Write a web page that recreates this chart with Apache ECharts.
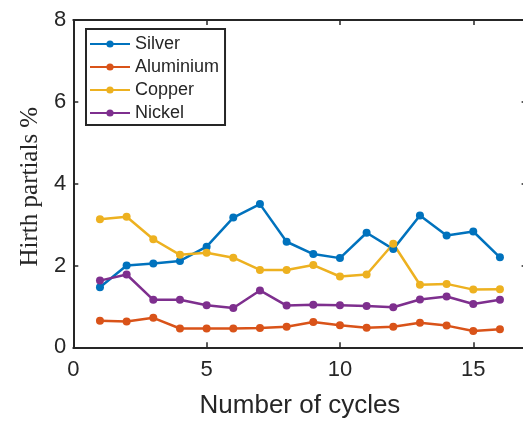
<!DOCTYPE html>
<html>
<head>
<meta charset="utf-8">
<script src="https://cdn.jsdelivr.net/npm/echarts@6/dist/echarts.min.js"></script>
<style>
html,body{margin:0;padding:0;background:#fff;overflow:hidden;}
#chart{width:532px;height:425px;}
</style>
</head>
<body>
<div id="chart"></div>
<script>
const cycles = [1, 2, 3, 4, 5, 6, 7, 8, 9, 10, 11, 12, 13, 14, 15, 16];
const silver = [1.47, 2.00, 2.05, 2.11, 2.46, 3.17, 3.50, 2.58, 2.28, 2.18, 2.80, 2.40, 3.22, 2.73, 2.83, 2.20];
const aluminium = [0.65, 0.63, 0.72, 0.46, 0.46, 0.46, 0.47, 0.50, 0.62, 0.54, 0.48, 0.50, 0.60, 0.53, 0.40, 0.44];
const copper = [3.13, 3.19, 2.64, 2.26, 2.31, 2.19, 1.89, 1.89, 2.01, 1.73, 1.78, 2.53, 1.53, 1.55, 1.41, 1.42];
const nickel = [1.63, 1.78, 1.16, 1.16, 1.03, 0.96, 1.39, 1.02, 1.04, 1.03, 1.01, 0.98, 1.17, 1.24, 1.06, 1.16];
const seriesNames = ['Silver', 'Aluminium', 'Copper', 'Nickel'];
const seriesColors = ['#0072BD', '#D95319', '#EDB120', '#7E2F8E'];
const seriesValues = [silver, aluminium, copper, nickel];
const xTicks = [0, 5, 10, 15];
const yTicks = [0, 2, 4, 6, 8];

const axisColor = '#262626';
const sans = 'Liberation Sans';

const chart = echarts.init(document.getElementById('chart'), null, {renderer: 'canvas'});

const series = seriesNames.map((name, i) => ({
  name: name,
  type: 'line',
  data: cycles.map((c, j) => [c, seriesValues[i][j]]),
  symbol: 'circle',
  symbolSize: 8,
  showSymbol: true,
  color: seriesColors[i],
  lineStyle: {width: 2.5, color: seriesColors[i]},
  itemStyle: {color: seriesColors[i]},
  animation: false,
  z: 3
}));

const baseX = {
  type: 'value', min: 0, max: 17, interval: 5,
  splitLine: {show: false},
  axisLine: {show: true, onZero: false, lineStyle: {color: axisColor, width: 2}},
  axisTick: {show: true, inside: true, length: 5, lineStyle: {color: axisColor, width: 1.5}}
};
const baseY = {
  type: 'value', min: 0, max: 8, interval: 2,
  splitLine: {show: false},
  axisLine: {show: true, onZero: false, lineStyle: {color: axisColor, width: 2}},
  axisTick: {show: true, inside: true, length: 5, lineStyle: {color: axisColor, width: 1.5}}
};

chart.setOption({
  backgroundColor: '#fff',
  animation: false,
  grid: {left: 73.3, top: 20, width: 453.3, height: 327.3, containLabel: false},
  legend: {
    data: seriesNames,
    orient: 'vertical',
    left: 86, top: 29,
    padding: [6, 6, 3, 3],
    itemGap: 5,
    itemWidth: 40,
    itemHeight: 9,
    backgroundColor: '#fff',
    borderColor: axisColor,
    borderWidth: 2,
    borderRadius: 0,
    textStyle: {fontFamily: sans, fontSize: 18, color: axisColor},
    z: 10
  },
  xAxis: [
    Object.assign({}, baseX, {
      position: 'bottom',
      name: 'Number of cycles',
      nameLocation: 'middle',
      nameGap: 46,
      nameTextStyle: {fontFamily: sans, fontSize: 26, color: axisColor},
      axisLabel: {
        show: true, margin: 12, fontFamily: sans, fontSize: 22, color: axisColor,
        formatter: v => (xTicks.indexOf(v) >= 0 ? String(v) : '')
      }
    }),
    Object.assign({}, baseX, {position: 'top', axisLabel: {show: false}})
  ],
  yAxis: [
    Object.assign({}, baseY, {
      position: 'left',
      name: 'Hirth partials %',
      nameLocation: 'middle',
      nameRotate: 90,
      nameGap: 27,
      nameTextStyle: {fontFamily: 'Liberation Serif', fontSize: 25, color: axisColor, padding: [0, 6, 0, 0]},
      axisLabel: {
        show: true, margin: 7, fontFamily: sans, fontSize: 22, color: axisColor,
        formatter: v => (yTicks.indexOf(v) >= 0 ? String(v) : '')
      }
    }),
    Object.assign({}, baseY, {position: 'right', axisLabel: {show: false}})
  ],
  series: series
});
</script>
</body>
</html>
